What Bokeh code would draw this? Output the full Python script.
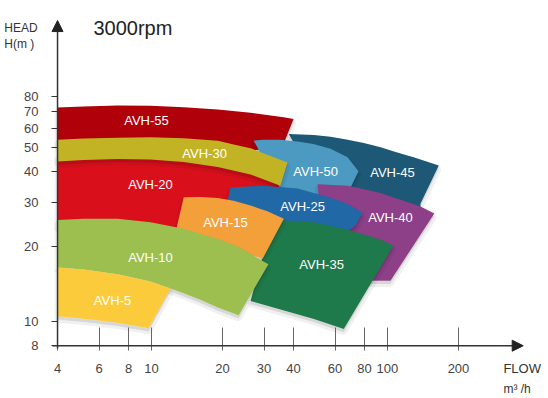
from bokeh.plotting import figure
from bokeh.models import Range1d, FixedTicker, PrintfTickFormatter, Arrow, NormalHead, Label, ColumnDataSource
from bokeh.core.properties import value
from bokeh.embed import file_html
from bokeh.resources import INLINE

# ---- data (flow m3/h, head m) ----
flow_ticks = [4, 6, 8, 10, 20, 30, 40, 60, 80, 100, 200]
head_ticks = [8, 10, 20, 30, 40, 50, 60, 70, 80]

# pump range outlines: top curve left->right, then bottom curve right->left
avh45_flow = [38.2, 48.8, 57.4, 67.8, 79.4, 93.5, 110, 129, 165, 138, 138, 76.9, 52.0]
avh45_head = [56.8, 56.3, 55.4, 53.9, 52.3, 50.2, 47.9, 45.8, 42.4, 29.8, 27.9, 32.1, 33.6]
avh55_flow = [4, 5.16, 7.18, 9.91, 13.7, 19.1, 26.3, 36.3, 40, 35.9, 26.3, 9.9, 4]
avh55_head = [72.5, 73.2, 73.9, 73.7, 72.7, 71.2, 69.1, 66.3, 65.3, 50.5, 48.7, 51.0, 51.0]
avh20_flow = [4, 7.18, 13.7, 19.1, 26.3, 37.0, 31.3, 13.3, 7.2, 4]
avh20_head = [46.5, 47.8, 46.4, 44.5, 41.5, 37.6, 26.7, 22.2, 23.6, 24.1]
avh50_flow = [27.1, 29.8, 35.2, 41.6, 48.6, 57.4, 67.8, 75.4, 69.8, 57.4, 42.8, 35.9]
avh50_head = [53.4, 53.8, 53.9, 53.0, 51.8, 49.5, 45.8, 40.2, 34.6, 30.6, 31.5, 33.0]
avh40_flow = [50.6, 67.8, 79.2, 93.5, 117, 138, 158, 103, 80.8, 53.1]
avh40_head = [35.7, 35.2, 34.1, 32.9, 30.6, 29.0, 27.2, 14.6, 14.6, 20.2]
avh30_flow = [4, 5.16, 7.18, 9.91, 13.7, 19.1, 22.3, 26.3, 31.0, 37.7,
              35.2, 26.3, 19.1, 13.7, 9.91, 7.18, 5.16, 4]
avh30_head = [53.9, 54.5, 54.9, 55.1, 54.6, 53.4, 51.5, 49.8, 46.9, 43.6,
              35.2, 39.0, 41.8, 43.8, 44.8, 45.1, 44.6, 44.0]
avh25_flow = [21.6, 29.8, 41.6, 57.4, 67.8, 78.4, 73.2, 57.4, 35.2, 22.7, 20.8]
avh25_head = [34.6, 35.2, 34.3, 31.5, 29.7, 27.4, 24.3, 21.2, 22.2, 25.0, 29.3]
avh35_flow = [32.6, 48.8, 67.8, 93.5, 106, 65.3, 48.8, 35.2, 26.3]
avh35_head = [25.7, 25.1, 23.4, 21.4, 20.2, 9.33, 10.25, 11.2, 12.1]
avh15_flow = [13.7, 16.1, 19.1, 22.3, 26.3, 31.0, 36.4, 29.6, 19.6, 12.65]
avh15_head = [31.6, 31.7, 31.4, 30.6, 29.3, 27.8, 25.9, 17.9, 20.2, 22.8]
avh10_flow = [4, 5.16, 7.18, 9.91, 13.7, 19.1, 23.1, 31.3,
              23.4, 19.1, 16.1, 13.7, 12.05, 9.91, 7.18, 5.16, 4]
avh10_head = [25.6, 25.9, 25.9, 25.1, 23.6, 21.5, 20.1, 17.0,
              10.6, 11.4, 12.25, 13.0, 13.6, 14.5, 15.5, 16.2, 16.5]
avh5_flow = [4, 5.16, 7.18, 9.91, 12.05, 9.72, 7.18, 5.52, 4]
avh5_head = [16.5, 16.2, 15.5, 14.5, 13.6, 9.4, 9.9, 10.2, 10.5]

# drawing order back -> front
pump_names = ["AVH-45", "AVH-55", "AVH-20", "AVH-50", "AVH-40", "AVH-30",
              "AVH-25", "AVH-35", "AVH-15", "AVH-10", "AVH-5"]
pump_flows = [avh45_flow, avh55_flow, avh20_flow, avh50_flow, avh40_flow, avh30_flow,
              avh25_flow, avh35_flow, avh15_flow, avh10_flow, avh5_flow]
pump_heads = [avh45_head, avh55_head, avh20_head, avh50_head, avh40_head, avh30_head,
              avh25_head, avh35_head, avh15_head, avh10_head, avh5_head]
pump_colors = ["#1D5876", "#B0000A", "#D9101C", "#4C9AC2", "#8D3F88", "#C2B325",
               "#2168A6", "#1F7A4B", "#F3A03A", "#9CBF50", "#FCCB3C"]
label_flow = [105, 9.53, 9.91, 49.6, 103, 16.8, 43.7, 52.6, 20.6, 9.91, 6.84]
label_head = [39.7, 64.3, 35.5, 40.1, 26.2, 47.4, 29.0, 16.9, 25.0, 18.1, 12.2]

FONT = "Liberation Sans"

# the frame fills the canvas; axes are pinned at flow=4 / head=8
p = figure(width=546, height=396, x_axis_type="log", y_axis_type="log",
           x_range=Range1d(2.293, 472), y_range=Range1d(5.0, 195.4),
           output_backend="svg", toolbar_location=None,
           min_border_left=0, min_border_right=0, min_border_top=0, min_border_bottom=0)
p.outline_line_color = None
p.grid.visible = False
p.background_fill_color = "white"
p.border_fill_color = "white"

# a slightly lower copy of the head scale, used for soft drop shadows
p.extra_y_ranges = {"shadow": Range1d(5.0 * 1.03, 195.4 * 1.03)}

for fx, hy, col in zip(pump_flows, pump_heads, pump_colors):
    p.patch(fx, hy, y_range_name="shadow", fill_color="#000000", fill_alpha=0.10,
            line_color="#000000", line_alpha=0.06, line_width=6)
    p.patch(fx, hy, fill_color=col, line_color=None)

lsrc = ColumnDataSource(dict(x=label_flow, y=label_head, text=pump_names))
p.text("x", "y", text="text", source=lsrc, text_color="white", text_font=value(FONT),
       text_font_size="13px", text_align="center", text_baseline="middle")

for ax in (p.xaxis[0], p.yaxis[0]):
    ax.axis_line_color = None
    ax.minor_tick_line_color = None
    ax.major_label_text_font = FONT
    ax.major_label_text_font_size = "13px"
    ax.major_label_text_color = "#444444"
    ax.major_label_text_font_style = "normal"
    ax.formatter = PrintfTickFormatter(format="%d")

p.xaxis.fixed_location = 8
p.yaxis.fixed_location = 4
p.xaxis.ticker = FixedTicker(ticks=flow_ticks)
p.yaxis.ticker = FixedTicker(ticks=head_ticks)
p.xaxis.major_tick_in = 18
p.xaxis.major_tick_out = 5
p.xaxis.major_tick_line_color = "#666666"
p.xaxis.major_label_standoff = 13
p.yaxis.major_tick_in = 0
p.yaxis.major_tick_out = 6
p.yaxis.major_tick_line_color = "#333333"
p.yaxis.major_label_standoff = 13

p.add_layout(Arrow(end=NormalHead(size=11, fill_color="#222222", line_color="#222222"),
                   x_start=4, y_start=7.8, x_end=4, y_end=162.3,
                   line_color="#333333", line_width=1.5))
p.add_layout(Arrow(end=NormalHead(size=11, fill_color="#222222", line_color="#222222"),
                   x_start=3.8, y_start=8, x_end=376, y_end=8,
                   line_color="#333333", line_width=1.5))

p.add_layout(Label(x=5.68, y=152, text="3000rpm", text_font=FONT, text_font_size="20px",
                   text_color="#222222", text_baseline="middle", text_align="left"))
p.add_layout(Label(x=2.38, y=150.8, text="HEAD", text_font=FONT, text_font_size="12px",
                   text_color="#333333", text_baseline="middle", text_align="left"))
p.add_layout(Label(x=2.38, y=131, text="H(m )", text_font=FONT, text_font_size="12px",
                   text_color="#333333", text_baseline="middle", text_align="left"))
p.add_layout(Label(x=310, y=6.47, text="FLOW", text_font=FONT, text_font_size="13px",
                   text_color="#333333", text_baseline="middle", text_align="left"))
p.add_layout(Label(x=310, y=5.37, text="m³ /h", text_font=FONT, text_font_size="12px",
                   text_color="#333333", text_baseline="middle", text_align="left"))

open("out.html", "w").write(file_html(p, INLINE))
